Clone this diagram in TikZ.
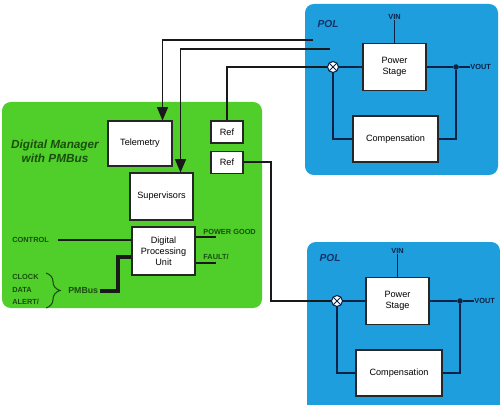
\documentclass[tikz,border=0pt]{standalone}
\usepackage{fontspec}
\setmainfont{Liberation Sans}
\usetikzlibrary{positioning, calc, arrows, decorations.pathreplacing}
\definecolor{mgrgreen}{RGB}{80,206,42}
\definecolor{polblue}{RGB}{30,158,220}
\definecolor{darkgreen}{RGB}{26,78,14}
\definecolor{navy}{RGB}{12,34,70}
\definecolor{poltext}{RGB}{20,50,104}

\begin{document}
\begin{tikzpicture}[x=0.02cm, y=-0.02cm,
    blk/.style={draw=black!85, line width=0.6pt, fill=white, align=center, font=\fontsize{5.2}{6.2}\selectfont, inner sep=1pt},
    wire/.style={draw=black!90, line width=0.75pt},
    sig/.style={draw=navy, line width=0.75pt},
    lbl/.style={font=\fontsize{4.2}{5}\selectfont\bfseries, text=darkgreen, inner sep=0pt},
    vlbl/.style={font=\fontsize{4.2}{5}\selectfont\bfseries, text=navy, inner sep=0pt},
    poltitle/.style={font=\fontsize{5.8}{7}\selectfont\bfseries\itshape, text=poltext},
    sum/.style={circle, draw=navy, line width=0.6pt, fill=white, inner sep=0pt, minimum size=0.22cm,
        path picture={\draw[navy, line width=0.5pt] (path picture bounding box.north west) -- (path picture bounding box.south east)
            (path picture bounding box.north east) -- (path picture bounding box.south west);}},
    dot/.style={circle, fill=navy, inner sep=0pt, minimum size=0.11cm}]

\useasboundingbox (0,0) rectangle (500,405);
\clip (0,0) rectangle (500,405);
\fill[white] (0,0) rectangle (500,405);

% panels
\fill[mgrgreen, rounded corners=5pt] (2,102) rectangle (262,308);
\fill[polblue, rounded corners=5pt] (305,4) rectangle (498,175);
\fill[polblue, rounded corners=5pt] (307,242) rectangle (500,430);

\node[font=\fontsize{6.7}{8}\selectfont\bfseries\itshape, text=darkgreen, align=center] (mgrtitle) at (55,151) {Digital Manager\\with PMBus};
\node[poltitle] (pol1) at (328,24) {POL};
\node[poltitle] (pol2) at (330,258) {POL};

% digital manager blocks
\node[blk, minimum width=1.28cm, minimum height=0.9cm] (tele) at (140,143.5) {Telemetry};
\node[blk, minimum width=1.26cm, minimum height=0.94cm] (sup) at (161.5,196.5) {Supervisors};
\node[blk, minimum width=0.64cm, minimum height=0.44cm] (ref1) at (227,132) {Ref};
\node[blk, minimum width=0.64cm, minimum height=0.44cm, below=0.14cm of ref1] (ref2) {Ref};
\node[blk, minimum width=1.26cm, minimum height=0.96cm] (dpu) at (163.5,251) {Digital\\Processing\\Unit};

% upper POL
\node[blk, minimum width=1.26cm, minimum height=0.94cm] (ps1) at (394.5,67) {Power\\Stage};
\node[blk, minimum width=1.7cm, minimum height=0.92cm] (comp1) at (395.5,139) {Compensation};
\node[sum] (sum1) at (333,67) {};
\node[dot] (j1) at (456,67) {};
\node[vlbl, above=0.46cm of ps1] (vin1) {VIN};
\node[vlbl, right=0.22cm of j1] (vout1) {VOUT};

% lower POL
\node[blk, minimum width=1.26cm, minimum height=0.94cm] (ps2) at (397.5,301) {Power\\Stage};
\node[blk, minimum width=1.72cm, minimum height=0.92cm] (comp2) at (399,373) {Compensation};
\node[sum] (sum2) at (337,301) {};
\node[dot] (j2) at (460,301) {};
\node[vlbl, above=0.46cm of ps2] (vin2) {VIN};
\node[vlbl, right=0.22cm of j2] (vout2) {VOUT};

\draw[sig] (vin1) -- (ps1);
\draw[sig] (sum1) -- (ps1);
\draw[sig] (ps1) -- (j1) -- (vout1);
\draw[sig] (comp1) -| (j1);
\draw[sig] (comp1) -| (sum1);

\draw[sig] (vin2) -- (ps2);
\draw[sig] (sum2) -- (ps2);
\draw[sig] (ps2) -- (j2) -- (vout2);
\draw[sig] (comp2) -| (j2);
\draw[sig] (comp2) -| (sum2);

% links between manager and POLs
\coordinate (t1) at (313,40);
\coordinate (s1) at (330,49);
\coordinate (r2) at (271,160);
\draw[wire, -triangle 45] (t1) -| ([xshift=-0.2cm]tele.north east);
\draw[wire, -triangle 45] (s1) -| ([xshift=-0.26cm]sup.north east);
\draw[wire] (sum1) -| (ref1);
\draw[wire] (ref2) -| (r2 |- sum2) -- (sum2);

% manager I/O
\node[lbl, anchor=west] (ctl) at (12,240) {CONTROL};
\draw[wire] ([xshift=0.18cm]ctl.east) -- (ctl.east -| dpu.west);
\node[lbl, anchor=south west] (pg) at (203,235) {POWER GOOD};
\draw[wire] ([yshift=0.28cm]dpu.east) -- ++(20,0);
\node[lbl, anchor=south west] (flt) at (203,260) {FAULT/};
\draw[wire] ([yshift=-0.24cm]dpu.east) -- ++(20,0);

\node[lbl, anchor=west] (clk) at (12,277) {CLOCK};
\node[lbl, anchor=west] (dat) at (12,290) {DATA};
\node[lbl, anchor=west] (alt) at (12,302) {ALERT/};
\draw[darkgreen, line width=0.6pt, decorate, decoration={brace, amplitude=8pt}] (46,273) -- (46,308);
\node[font=\fontsize{5}{6}\selectfont\bfseries, text=darkgreen, inner sep=0pt, anchor=west] (pmbus) at (68,291) {PMBus};
\coordinate (pm) at (118,257);
\draw[wire, line width=1.8pt] ([xshift=1pt]pmbus.east) -| (pm) -- (pm -| dpu.west);

\end{tikzpicture}
\end{document}
